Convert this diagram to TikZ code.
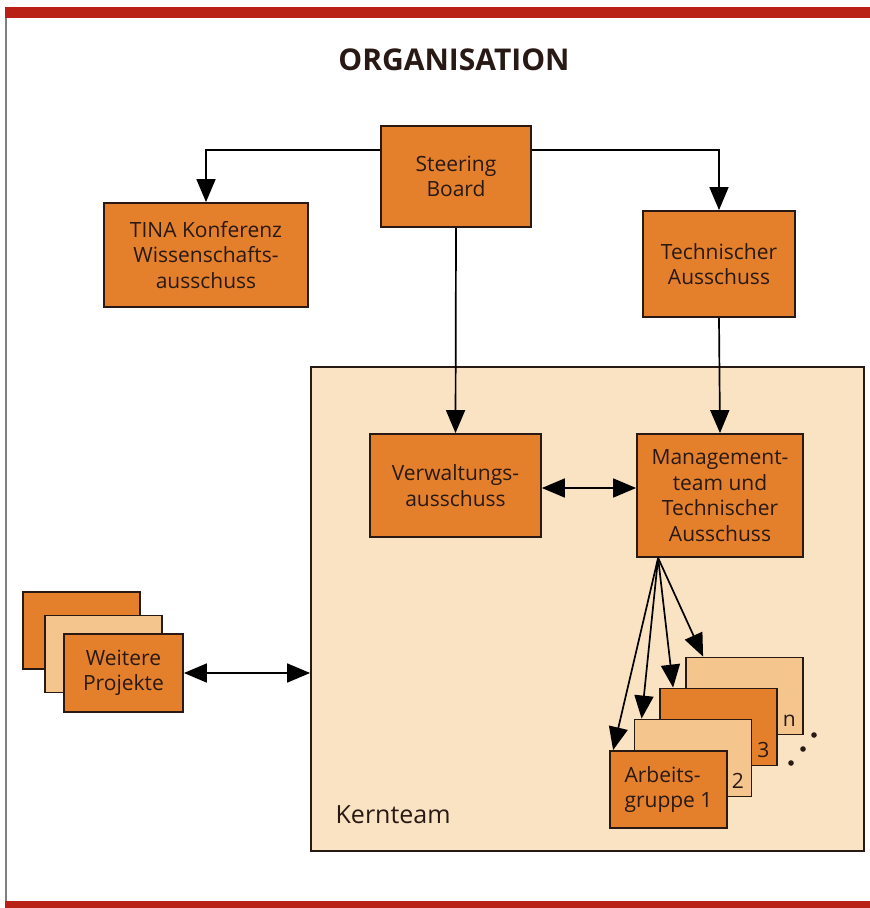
\documentclass[tikz,border=0pt]{standalone}
\usepackage{fontspec}
\setmainfont{Open Sans}
\usepackage{xcolor}
\usetikzlibrary{
    arrows.meta,
    calc,
    positioning
}
\definecolor{orgdark}{RGB}{228,128,44}
\definecolor{orglight}{RGB}{244,198,142}
\definecolor{kernbg}{RGB}{250,227,194}
\definecolor{orgline}{RGB}{40,25,20}
\definecolor{redbar}{RGB}{185,32,22}
\tikzset{
    box/.style={draw=orgline, line width=1.8pt, inner sep=0pt, align=center,
        text=orgline, font=\fontsize{21}{25.5}\selectfont},
    darkbox/.style={box, fill=orgdark},
    lightbox/.style={box, fill=orglight},
    gruppe/.style={minimum width=117pt, minimum height=77pt},
    pfeil/.style={line width=1.7pt, -{Triangle[length=23pt,width=19pt]}},
    doppelpfeil/.style={line width=1.7pt,
        {Triangle[length=23pt,width=19pt]}-{Triangle[length=23pt,width=19pt]}},
    nummer/.style={anchor=base, text=orgline, font=\fontsize{21}{25.5}\selectfont}
}

\begin{document}
\begin{tikzpicture}[x=1pt, y=-1pt]
    \useasboundingbox (0,0) rectangle (870,908);
    \fill[redbar] (5,7) rectangle (870,18);
    \fill[redbar] (5,901) rectangle (870,908);
    \draw[gray, line width=1.5pt] (6,18) -- (6,901);

    \node[anchor=base, text=orgline, font=\fontsize{30}{36}\selectfont\bfseries] (titel) at (454,70) {ORGANISATION};

    \node[darkbox, minimum width=150pt, minimum height=101pt] (steering) at (456,176.5) {Steering\\Board};
    \node[darkbox, minimum width=204pt, minimum height=104pt] (tina) at (206,255) {TINA Konferenz\\Wissenschafts-\\ausschuss};
    \node[darkbox, minimum width=152pt, minimum height=106pt] (technisch) at (719,264) {Technischer\\Ausschuss};

    \node[draw=orgline, line width=1.8pt, fill=kernbg, inner sep=0pt,
        minimum width=553pt, minimum height=484pt] (kernteam) at (587.5,609) {};
    \node[anchor=base west, text=orgline, font=\fontsize{25}{29}\selectfont] (kernlabel)
        at ($(kernteam.south west)+(22,-28)$) {Kernteam};

    \node[darkbox, minimum width=171pt, minimum height=103pt] (verwaltung) at (455.5,485.5) {Verwaltungs-\\ausschuss};
    \node[darkbox, minimum width=166pt, minimum height=123pt] (management) at (720,495.5) {Management-\\team und\\Technischer\\Ausschuss};

    \node[lightbox, gruppe] (agn) at (744.5,696) {};
    \node[darkbox, gruppe] (ag3) at (718.5,727) {};
    \node[lightbox, gruppe] (ag2) at (693,758) {};
    \node[darkbox, gruppe, align=left] (ag1) at (668.5,789.5) {Arbeits-\\gruppe 1};
    \node[nummer] (nn) at ($(agn.south east)+(-14.5,-9)$) {n};
    \node[nummer] (n3) at ($(ag3.south east)+(-14.5,-9)$) {3};
    \node[nummer] (n2) at ($(ag2.south east)+(-14.5,-9)$) {2};
    \fill[orgline] (814,735) circle (2.8pt) (803,749) circle (2.8pt) (791,763) circle (2.8pt);

    \node[darkbox, gruppe] (wp3) at (81.5,630.5) {};
    \node[lightbox, gruppe] (wp2) at (103.5,654) {};
    \node[darkbox, gruppe, minimum width=119pt, minimum height=78pt] (wp1) at (123.5,673) {Weitere\\Projekte};

    \coordinate (sl) at ($(steering.north west)+(0,25)$);
    \coordinate (sr) at ($(steering.north east)+(0,25)$);
    \draw[pfeil] (sl) -| (tina.north);
    \draw[pfeil] (sr) -| (technisch.north);
    \draw[pfeil] (steering.south) -- (verwaltung.north);
    \draw[pfeil] (technisch.south) -- (management.north);

    \coordinate (vm) at ($(verwaltung.east)+(0,2.5)$);
    \draw[doppelpfeil] (vm) -- (vm -| management.west);
    \draw[doppelpfeil] (wp1.east) -- (wp1.east -| kernteam.west);

    \coordinate (mq) at ($(management.south west)+(22,0)$);
    \draw[pfeil] (mq) -- ($(ag1.north west)+(4,0)$);
    \draw[pfeil] (mq) -- ($(ag2.north west)+(8,0)$);
    \draw[pfeil] (mq) -- ($(ag3.north west)+(14,0)$);
    \draw[pfeil] (mq) -- ($(agn.north west)+(18,0)$);
\end{tikzpicture}
\end{document}
